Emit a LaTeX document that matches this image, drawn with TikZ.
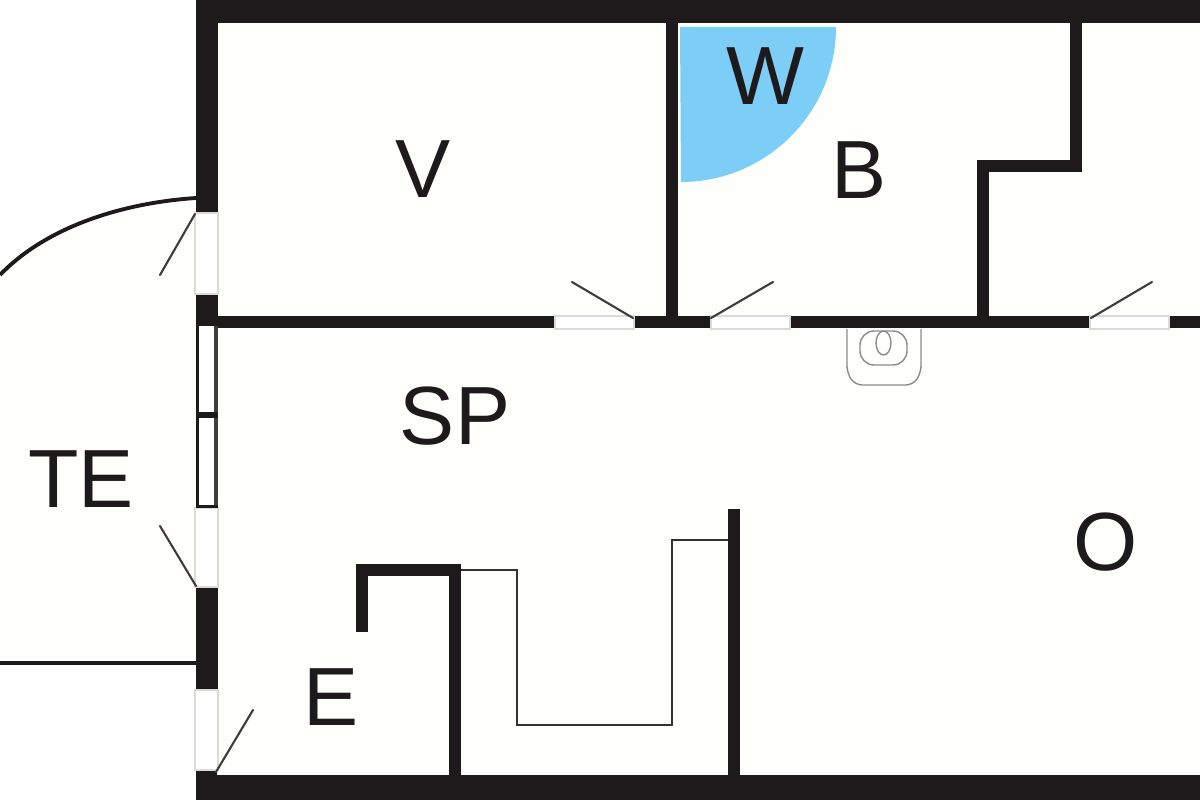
\documentclass[tikz,border=0pt]{standalone}
\usepackage{fontspec}
\setmainfont{Liberation Sans}
\definecolor{floorc}{HTML}{FEFEFA}
\definecolor{wallc}{HTML}{1E1A1B}
\definecolor{bluec}{HTML}{7DCEF7}
\definecolor{gapedge}{HTML}{DADAD6}
\tikzset{
  swing/.style={draw=wallc!85,line width=1.2pt,line cap=round},
  gapbox/.style={fill=white,draw=gapedge,line width=0.6pt},
  fixture/.style={draw=black!45,line width=0.8pt},
  stair/.style={draw=wallc!90,line width=1.2pt},
  roomlabel/.style={inner sep=0pt,text=wallc,font=\fontsize{47}{47}\selectfont}
}
\begin{document}
\begin{tikzpicture}[x=0.02cm,y=-0.02cm]
\useasboundingbox (0,0) rectangle (1200,800);
\fill[white] (0,0) rectangle (1200,800);
% floors
\fill[floorc] (196,0) rectangle (1200,800);
\fill[floorc] (196,198) .. controls (120,203) and (45,228) .. (0,275) -- (0,663) -- (196,663) -- cycle;
% blue swing
\fill[bluec] (680,27) -- (836,27) arc[start angle=0,end angle=90,radius=155] -- cycle;
% outer walls
\fill[wallc] (196,0) rectangle (1200,23);
\fill[wallc] (196,0) rectangle (218,213);
\fill[wallc] (196,294) rectangle (218,326);
\fill[wallc] (196,587) rectangle (218,690);
\fill[wallc] (196,775) rectangle (1200,800);
\fill[wallc] (196,770) rectangle (217,776);
% openings in left wall
\draw[gapbox] (195,213) rectangle (218,294);
\draw[gapbox] (195,508) rectangle (218,587);
\draw[gapbox] (195,690) rectangle (218,770);
% window
\fill[white] (196,326) rectangle (218,508);
\fill[wallc] (196,326) rectangle (199,508);
\fill[wallc!85] (214,326) rectangle (218,508);
\fill[wallc] (196,412) rectangle (218,418);
\fill[wallc] (196,505) rectangle (218,508);
% horizontal wall
\fill[wallc] (218,316) rectangle (1200,328);
\draw[gapbox] (555,316) rectangle (634,329);
\draw[gapbox] (711,316) rectangle (790,329);
\draw[gapbox] (1090,316) rectangle (1169,329);
% inner walls
\fill[wallc] (666,23) rectangle (678,316);
\fill[wallc] (977,160) rectangle (989,316);
\fill[wallc] (977,160) rectangle (1082,172);
\fill[wallc] (1070,23) rectangle (1082,172);
\fill[wallc] (356,564) rectangle (368,632);
\fill[wallc] (356,564) rectangle (461,576);
\fill[wallc] (449,564) rectangle (461,775);
\fill[wallc] (728,509) rectangle (740,775);
% stairs outline
\draw[stair] (461,570) -- (517,570) -- (517,725) -- (672,725) -- (672,540) -- (728,540);
% door leaves
\draw[swing] (633,318) -- (572,282);
\draw[swing] (711,318) -- (773,282);
\draw[swing] (1091,318) -- (1152,282);
\draw[swing] (195,214) -- (160,275);
\draw[swing] (196,586) -- (160,526);
\draw[swing] (216,772) -- (253,710);
% terrace edge
\draw[wallc,line width=2.2pt] (196,198) .. controls (120,203) and (45,228) .. (0,275);
\draw[wallc,line width=2.2pt] (0,663) -- (196,663);
% fixture
\draw[fixture,rounded corners=4pt] (847,329) -- (847,373) -- (855,385) -- (913,385) -- (921,373) -- (921,329);
\draw[fixture,rounded corners=8pt] (860,331) rectangle (907,365);
\draw[fixture] (883.5,343) ellipse[x radius=7.5,y radius=12];
% labels
\node[roomlabel] (roomV) at (423,169) {V};
\node[roomlabel] (roomW) at (765,76) {W};
\node[roomlabel] (roomB) at (859,170) {B};
\node[roomlabel] (roomSP) at (455,416) {SP};
\node[roomlabel] (roomTE) at (81,479) {TE};
\node[roomlabel] (roomE) at (331,697) {E};
\node[roomlabel] (roomO) at (1106,542) {O};
\end{tikzpicture}
\end{document}
